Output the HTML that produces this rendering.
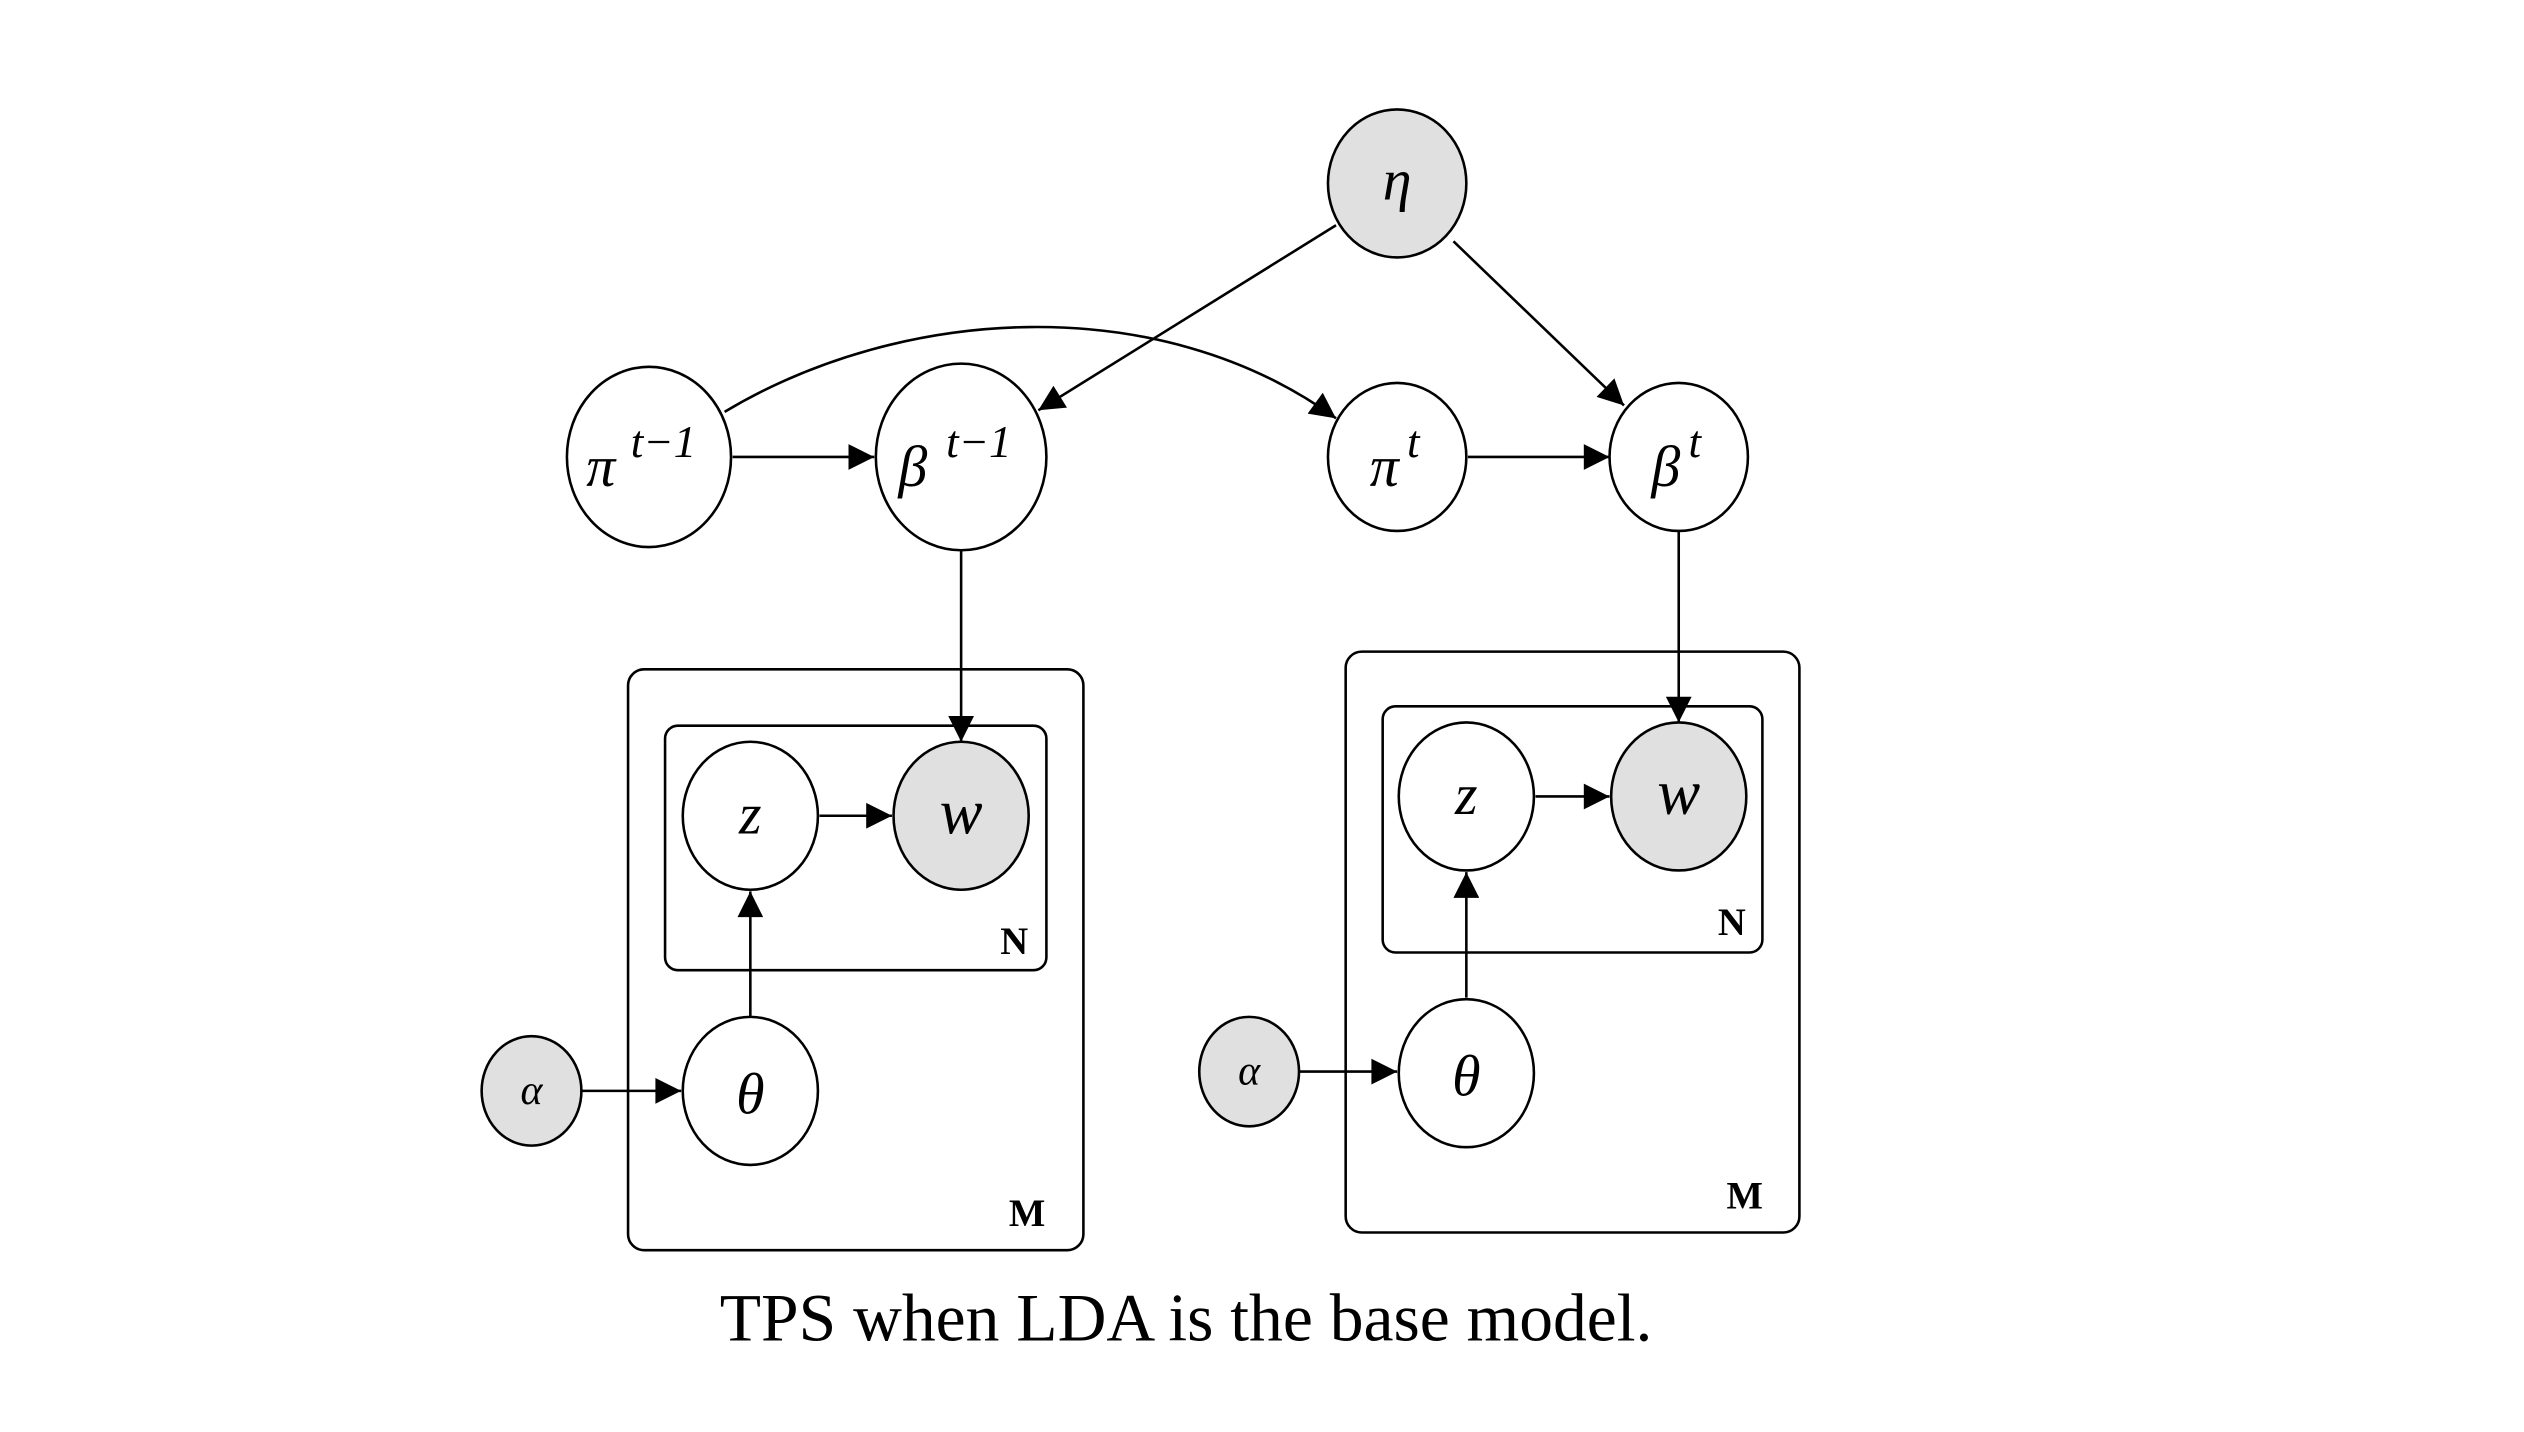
<!DOCTYPE html>
<html><head><style>html,body{margin:0;padding:0;background:#fff;}svg{display:block}</style></head>
<body>
<svg width="2524" height="1432" viewBox="0 0 1568 890" xmlns="http://www.w3.org/2000/svg">
<defs>
<marker id="b" viewBox="0 0 10 10" refX="10" refY="5" markerWidth="20" markerHeight="16" orient="auto" markerUnits="userSpaceOnUse"><path d="M0,0 L10,5 L0,10 z" fill="#000"/></marker>
</defs>
<g stroke="#000" stroke-width="1.6" fill="none">
<rect x="390" y="416" width="283" height="361" rx="10"/>
<rect x="413" y="451" width="237" height="152" rx="8"/>
<rect x="836" y="405" width="282" height="361" rx="10"/>
<rect x="859" y="439" width="236" height="153" rx="8"/>
<line x1="455" y1="284" x2="543" y2="284" marker-end="url(#b)"/>
<line x1="912" y1="284" x2="1000" y2="284" marker-end="url(#b)"/>
<line x1="830" y1="140" x2="645" y2="255" marker-end="url(#b)"/>
<line x1="903" y1="150" x2="1009" y2="252" marker-end="url(#b)"/>
<path d="M450,256 C560,190 720,180 830,260" marker-end="url(#b)"/>
<line x1="597" y1="342" x2="597" y2="461" marker-end="url(#b)"/>
<line x1="1043" y1="330" x2="1043" y2="449" marker-end="url(#b)"/>
<line x1="509" y1="507" x2="554" y2="507" marker-end="url(#b)"/>
<line x1="466" y1="632" x2="466" y2="554" marker-end="url(#b)"/>
<line x1="361" y1="678" x2="423" y2="678" marker-end="url(#b)"/>
<line x1="954" y1="495" x2="1000" y2="495" marker-end="url(#b)"/>
<line x1="911" y1="620" x2="911" y2="542" marker-end="url(#b)"/>
<line x1="807" y1="666" x2="868" y2="666" marker-end="url(#b)"/>
<ellipse cx="868" cy="114" rx="43" ry="46" fill="#e0e0e0"/>
<ellipse cx="403" cy="284" rx="51" ry="56" fill="#fff"/>
<ellipse cx="597" cy="284" rx="53" ry="58" fill="#fff"/>
<ellipse cx="868" cy="284" rx="43" ry="46" fill="#fff"/>
<ellipse cx="1043" cy="284" rx="43" ry="46" fill="#fff"/>
<ellipse cx="466" cy="507" rx="42" ry="46" fill="#fff"/>
<ellipse cx="597" cy="507" rx="42" ry="46" fill="#e0e0e0"/>
<ellipse cx="466" cy="678" rx="42" ry="46" fill="#fff"/>
<ellipse cx="330" cy="678" rx="31" ry="34" fill="#e0e0e0"/>
<ellipse cx="911" cy="495" rx="42" ry="46" fill="#fff"/>
<ellipse cx="1043" cy="495" rx="42" ry="46" fill="#e0e0e0"/>
<ellipse cx="911" cy="667" rx="42" ry="46" fill="#fff"/>
<ellipse cx="776" cy="666" rx="31" ry="34" fill="#e0e0e0"/>
</g>
<g font-family="Liberation Serif, serif" font-style="italic" fill="#000" text-anchor="middle">
<text x="868" y="124" font-size="36">η</text>
<text x="373" y="302" font-size="36">π</text><text x="412" y="284" font-size="28">t−1</text>
<text x="567" y="302" font-size="36">β</text><text x="608" y="284" font-size="28">t−1</text>
<text x="860" y="302" font-size="36">π</text><text x="878" y="284" font-size="28">t</text>
<text x="1035" y="302" font-size="36">β</text><text x="1053" y="284" font-size="28">t</text>
<text x="466" y="518" font-size="36">z</text>
<text x="597" y="518" font-size="40">w</text>
<text x="466" y="692" font-size="36">θ</text>
<text x="330" y="686" font-size="26">α</text>
<text x="911" y="506" font-size="36">z</text>
<text x="1043" y="506" font-size="40">w</text>
<text x="911" y="681" font-size="36">θ</text>
<text x="776" y="674" font-size="26">α</text>
</g>
<g font-family="Liberation Serif, serif" font-weight="bold" font-size="24" fill="#000" text-anchor="middle">
<text x="630" y="593">N</text><text x="638" y="762">M</text>
<text x="1076" y="581">N</text><text x="1084" y="751">M</text>
</g>
<text x="447" y="833" font-family="Liberation Serif, serif" font-size="42" fill="#000">TPS when LDA is the base model.</text>
</svg>
</body></html>
